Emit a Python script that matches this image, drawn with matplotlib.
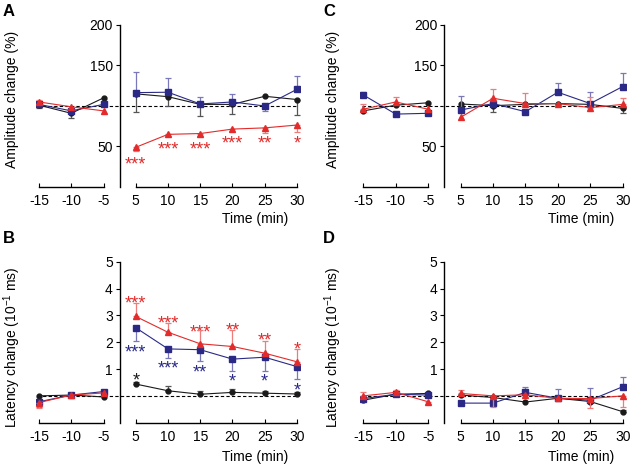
import numpy as np
import matplotlib
matplotlib.use("Agg")
import matplotlib.pyplot as plt

plt.rcParams['font.family'] = ['Liberation Sans', 'DejaVu Sans']
plt.rcParams['mathtext.fontset'] = 'custom'
plt.rcParams['mathtext.rm'] = 'Liberation Sans'
plt.rcParams['mathtext.it'] = 'Liberation Sans:italic'

times = [-15, -10, -5, 5, 10, 15, 20, 25, 30]

# panel A - amplitude
a_black = [101, 91, 110, 115, 111.5, 102, 102, 112, 108]
a_black_lo = [3, 6, 0, 22, 11.5, 14, 12, 0, 19]
a_black_hi = [0, 0, 0, 0, 0, 0, 0, 0, 0]
a_blue = [102, 94, 102, 116.5, 117, 102.5, 105, 100, 120.6]
a_blue_lo = [0, 0, 0, 0, 0, 0, 0, 6, 0]
a_blue_hi = [0, 0, 0, 25, 18, 8.5, 10, 0, 16]
a_red = [105, 99, 94, 49, 65, 66, 71.5, 73, 76.5]
a_red_lo = [2, 0, 0, 4, 2, 3, 2, 6, 8]
a_red_hi = [2, 0, 0, 0, 0, 0, 0, 0, 0]

# panel B - latency
b_black = [0.0, 0.03, -0.04, 0.44, 0.19, 0.06, 0.13, 0.10, 0.07]
b_black_lo = [0, 0, 0, 0, 0, 0, 0, 0, 0]
b_black_hi = [0, 0, 0, 0.06, 0.16, 0.13, 0.12, 0.08, 0.08]
b_blue = [-0.22, 0.03, 0.16, 2.54, 1.75, 1.72, 1.37, 1.44, 1.09]
b_blue_lo = [0.2, 0, 0, 0.5, 0.34, 0.43, 0.44, 0.5, 0.47]
b_blue_hi = [0, 0, 0, 0, 0, 0, 0, 0, 0]
b_red = [-0.25, 0.03, 0.11, 2.96, 2.37, 1.94, 1.84, 1.59, 1.27]
b_red_lo = [0.19, 0, 0, 0, 0, 0, 0, 0, 0]
b_red_hi = [0, 0, 0, 0.5, 0.36, 0.53, 0.6, 0.47, 0.47]

# panel C - amplitude
c_black = [94, 101, 104, 102.5, 100.4, 102, 103, 102, 97]
c_black_lo = [0, 0, 0, 0, 8, 0, 0, 0, 6]
c_black_hi = [0, 0, 0, 0, 0, 0, 0, 0, 0]
c_blue = [113.6, 90, 91, 95, 103, 93, 117, 103, 124]
c_blue_lo = [0, 0, 0, 0, 0, 0, 0, 0, 0]
c_blue_hi = [4, 0, 0, 17, 0, 0, 12, 14, 17]
c_red = [96, 105, 96, 86, 109.5, 103, 103, 98, 102]
c_red_lo = [0, 0, 0, 0, 0, 0, 0, 0, 0]
c_red_hi = [6, 6, 0, 0, 11, 13, 0, 13, 8]

# panel D - latency
d_black = [-0.16, 0.06, 0.09, 0.03, -0.06, -0.23, -0.09, -0.21, -0.59]
d_black_lo = [0, 0, 0, 0, 0, 0, 0, 0, 0]
d_black_hi = [0, 0, 0, 0, 0, 0, 0, 0, 0.05]
d_blue = [-0.1, 0.06, 0.03, -0.27, -0.27, 0.13, -0.09, -0.16, 0.34]
d_blue_lo = [0, 0, 0, 0, 0, 0, 0, 0, 0]
d_blue_hi = [0, 0, 0, 0, 0, 0.19, 0.34, 0.45, 0.37]
d_red = [0.0, 0.13, -0.22, 0.09, 0.0, 0.04, -0.09, -0.1, 0.0]
d_red_lo = [0, 0, 0.1, 0, 0.4, 0, 0, 0.36, 0.41]
d_red_hi = [0.15, 0.08, 0, 0.12, 0, 0, 0, 0, 0]

# significance marks: (time index, y value, text)
a_stars_red = [(3, 34.6, '***'), (4, 53, '***'), (5, 53, '***'),
               (6, 60.5, '***'), (7, 60.5, '**'), (8, 60.5, '*')]
b_stars_red = [(3, 3.63, '***'), (4, 2.9, '***'), (5, 2.54, '***'),
               (6, 2.62, '**'), (7, 2.25, '**'), (8, 1.91, '*')]
b_stars_blue = [(3, 1.81, '***'), (4, 1.21, '***'), (5, 1.06, '**'),
                (6, 0.71, '*'), (7, 0.71, '*'), (8, 0.40, '*')]
b_stars_black = [(3, 0.75, '*')]

BLACK = '#1a1a1a'
BLUE = '#2a2a86'
RED = '#e32b2b'
BLACK_ERR = '#555555'
BLUE_ERR = '#7a78b8'
RED_ERR = '#ef7b7b'

x = np.arange(len(times))


def series(ax, y, lo, hi, color, ecolor, marker, ms, z):
    y = np.array(y, dtype=float)
    lo = np.array(lo, dtype=float)
    hi = np.array(hi, dtype=float)
    m = (lo > 0) | (hi > 0)
    if m.any():
        ax.errorbar(x[m], y[m], yerr=[lo[m], hi[m]], fmt='none', ecolor=ecolor,
                    elinewidth=0.9, capsize=2, capthick=0.9, zorder=z)
    for seg in (slice(0, 3), slice(3, 9)):
        ax.plot(x[seg], y[seg], color=color, lw=0.8, marker=marker, ms=ms,
                mec=color, mfc=color, zorder=z + 0.5)


def setup(ax, ylim, yticks, ylabel, lab_x, lab_y):
    ax.set_xlim(-0.1, 8.1)
    ax.set_ylim(*ylim)
    for s in ('top', 'right', 'bottom'):
        ax.spines[s].set_visible(False)
    ax.spines['left'].set_position(('data', 2.5))
    ax.spines['left'].set_linewidth(1.0)
    ax.set_yticks(yticks)
    ax.set_xticks(x)
    ax.set_xticklabels([str(t) for t in times])
    ax.tick_params(axis='y', direction='out', length=3, width=0.8, labelsize=10, pad=2)
    ax.tick_params(axis='x', direction='in', length=3, width=0.8, labelsize=10, pad=5)
    ax.plot([0, 2], [ylim[0]] * 2, color='black', lw=1.0, clip_on=False)
    ax.plot([3, 8], [ylim[0]] * 2, color='black', lw=1.0, clip_on=False)
    base = 100 if ylim[1] > 10 else 0
    ax.plot([-0.05, 8], [base, base], color='black', lw=0.8, ls=(0, (3, 2)), zorder=1)
    ax.set_ylabel(ylabel, fontsize=10)
    ax.yaxis.label.set_verticalalignment('center')
    ax.yaxis.set_label_coords(lab_x, lab_y)


def stars(ax, marks, color):
    for i, yv, t in marks:
        ax.annotate(t, (x[i], yv), xytext=(0, -4), textcoords='offset points',
                    ha='center', va='center', color=color, fontsize=13)


fig = plt.figure(figsize=(6.32, 4.65), dpi=100)

W = 632.0
H = 465.0
axA = fig.add_axes([35.8 / W, 1 - 187 / H, 264.4 / W, 162 / H])
axB = fig.add_axes([35.8 / W, 1 - 422.7 / H, 264.4 / W, 161 / H])
axC = fig.add_axes([360.1 / W, 1 - 187 / H, 265.8 / W, 162 / H])
axD = fig.add_axes([360.1 / W, 1 - 422.7 / H, 265.8 / W, 161 / H])

amp_label = 'Amplitude change (%)'
lat_label = 'Latency change (10$^{-1}$ ms)'

left_x = (12.5 - 35.8) / 264.4
right_x = (332.7 - 360.1) / 265.8
setup(axA, (0, 200), [50, 150, 200], amp_label, left_x, 0.54)
setup(axB, (-1, 5), [1, 2, 3, 4, 5], lat_label, left_x, 0.47)
setup(axC, (0, 200), [50, 150, 200], amp_label, right_x, 0.54)
setup(axD, (-1, 5), [1, 2, 3, 4, 5], lat_label, right_x, 0.47)

panels = [
    (axA, a_black, a_black_lo, a_black_hi, a_blue, a_blue_lo, a_blue_hi, a_red, a_red_lo, a_red_hi),
    (axB, b_black, b_black_lo, b_black_hi, b_blue, b_blue_lo, b_blue_hi, b_red, b_red_lo, b_red_hi),
    (axC, c_black, c_black_lo, c_black_hi, c_blue, c_blue_lo, c_blue_hi, c_red, c_red_lo, c_red_hi),
    (axD, d_black, d_black_lo, d_black_hi, d_blue, d_blue_lo, d_blue_hi, d_red, d_red_lo, d_red_hi),
]
for ax, bk, bkl, bkh, bl, bll, blh, rd, rdl, rdh in panels:
    series(ax, bk, bkl, bkh, BLACK, BLACK_ERR, 'o', 3.5, 3)
    series(ax, bl, bll, blh, BLUE, BLUE_ERR, 's', 4, 4)
    series(ax, rd, rdl, rdh, RED, RED_ERR, '^', 4.5, 5)

stars(axA, a_stars_red, RED)
stars(axB, b_stars_red, RED)
stars(axB, b_stars_blue, BLUE)
stars(axB, b_stars_black, BLACK)

for ax, yy in ((axA, -0.198), (axB, -0.211), (axC, -0.198), (axD, -0.211)):
    ax.text(0.83, yy, 'Time (min)', transform=ax.transAxes, ha='center',
            va='center', fontsize=10)

for lbl, px, py in (('A', 3, 4), ('B', 3, 231), ('C', 323, 4), ('D', 323, 231)):
    fig.text(px / W, 1 - py / H, lbl, fontsize=12, fontweight='bold',
             ha='left', va='top')

fig.savefig('out.png', dpi=100)
